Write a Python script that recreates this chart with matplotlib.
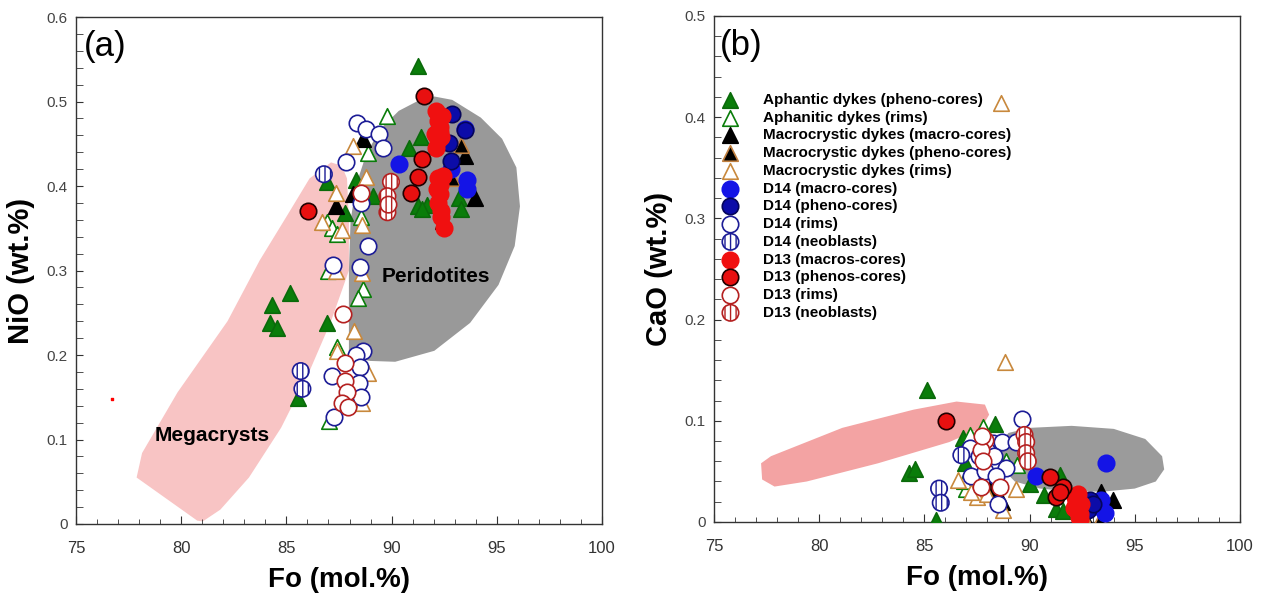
import matplotlib
matplotlib.use("Agg")
import matplotlib.pyplot as plt
from matplotlib.ticker import MultipleLocator

plt.rcParams["font.family"] = ["Liberation Sans", "DejaVu Sans"]
plt.rcParams["hatch.linewidth"] = 1.0

# ---- (a) NiO vs Fo, (b) CaO vs Fo ----
# Aphanitic dykes (pheno-cores)
aph_core_fo_a = [91.27, 91.39, 90.81, 88.31, 89.12, 87.80, 86.92, 91.24, 91.66, 91.44, 93.22, 93.31,
                 85.17, 84.32, 84.24, 84.53, 86.95, 85.56]
aph_core_nio = [0.542, 0.458, 0.445, 0.407, 0.388, 0.368, 0.405, 0.376, 0.378, 0.373, 0.386, 0.373,
                0.274, 0.259, 0.238, 0.232, 0.238, 0.149]
aph_core_fo_b = [85.14, 84.27, 84.54, 85.57, 88.35, 86.84, 86.95, 90.00, 90.71, 91.43, 91.27, 91.59]
aph_core_cao = [0.130, 0.048, 0.052, 0.002, 0.097, 0.083, 0.058, 0.038, 0.027, 0.046, 0.013, 0.011]

# Aphanitic dykes (rims)
aph_rim_fo_a = [89.80, 88.86, 86.95, 87.15, 87.40, 88.56, 88.66, 88.42, 87.39, 87.03, 87.00]
aph_rim_nio = [0.483, 0.439, 0.358, 0.350, 0.343, 0.363, 0.278, 0.267, 0.209, 0.122, 0.300]
aph_rim_fo_b = [87.16, 87.79, 87.00, 88.90, 89.40, 86.90]
aph_rim_cao = [0.086, 0.094, 0.033, 0.060, 0.056, 0.040]

# Macrocrystic dykes (macro-cores)
mac_core_fo_a = [88.64, 87.37, 88.17, 93.47, 93.98, 92.46]
mac_core_nio = [0.456, 0.376, 0.390, 0.435, 0.386, 0.359]
mac_core_fo_b = [93.41, 93.96, 92.70, 88.11, 88.70]
mac_core_cao = [0.030, 0.022, 0.002, 0.033, 0.020]

# Macrocrystic dykes (pheno-cores)
mac_pheno_fo_a = [93.31, 92.88]
mac_pheno_nio = [0.449, 0.409]
mac_pheno_fo_b = [93.33, 92.50]
mac_pheno_cao = [0.002, 0.008]

# Macrocrystic dykes (rims)
mac_rim_fo_a = [88.17, 88.78, 87.37, 86.69, 87.63, 88.61, 87.37, 88.61, 88.22, 87.42, 88.90, 88.61]
mac_rim_nio = [0.447, 0.411, 0.392, 0.357, 0.348, 0.354, 0.300, 0.297, 0.228, 0.205, 0.179, 0.143]
mac_rim_fo_b = [88.64, 88.81, 86.60, 87.48, 88.75, 89.38, 87.20, 88.00]
mac_rim_cao = [0.414, 0.158, 0.041, 0.025, 0.012, 0.033, 0.030, 0.028]

# D14 (macro-cores)
d14_core_fo_a = [90.34, 93.47, 93.56, 93.56, 92.80]
d14_core_nio = [0.426, 0.468, 0.407, 0.397, 0.420]
d14_core_fo_b = [93.65, 90.32, 93.41, 93.57, 93.33]
d14_core_cao = [0.058, 0.045, 0.022, 0.009, 0.015]

# D14 (pheno-cores)
d14_pheno_fo_a = [92.88, 92.71, 92.80, 93.47]
d14_pheno_nio = [0.485, 0.451, 0.430, 0.466]
d14_pheno_fo_b = [92.86, 92.80, 93.00]
d14_pheno_cao = [0.022, 0.012, 0.018]

# D14 (rims)
d14_rim_fo_a = [88.34, 88.78, 89.41, 89.58, 87.85, 88.56, 88.90, 87.20, 88.51, 88.64, 88.31, 88.51,
                88.47, 87.15, 88.56, 87.25]
d14_rim_nio = [0.475, 0.468, 0.462, 0.445, 0.429, 0.380, 0.329, 0.306, 0.304, 0.205, 0.200, 0.186,
               0.167, 0.175, 0.150, 0.127]
d14_rim_fo_b = [87.16, 88.27, 88.67, 88.35, 88.90, 87.24, 88.51, 89.62, 89.38, 87.60, 88.00, 88.30,
                87.90, 88.40]
d14_rim_cao = [0.073, 0.078, 0.079, 0.056, 0.053, 0.045, 0.018, 0.102, 0.079, 0.065, 0.070, 0.065,
               0.050, 0.045]

# D14 (neoblasts)
d14_neo_fo_a = [86.78, 85.68, 85.76]
d14_neo_nio = [0.414, 0.181, 0.160]
d14_neo_fo_b = [85.70, 85.78, 86.76]
d14_neo_cao = [0.033, 0.019, 0.066]

# D13 (macros-cores)
d13_core_fo_a = [92.12, 92.20, 92.29, 92.20, 92.12, 92.29, 92.37, 92.20, 92.29, 92.29, 92.20, 92.37,
                 92.33, 92.50, 92.05, 92.40, 92.15, 92.42]
d13_core_nio = [0.489, 0.477, 0.464, 0.454, 0.445, 0.470, 0.458, 0.409, 0.401, 0.390, 0.380, 0.371,
                0.363, 0.350, 0.462, 0.483, 0.396, 0.412]
d13_core_fo_b = [92.14, 92.30, 92.38, 92.20, 92.35, 92.25, 92.45, 92.10, 92.30, 92.40]
d13_core_cao = [0.025, 0.015, 0.008, 0.020, 0.005, 0.012, 0.018, 0.014, 0.028, 0.003]

# D13 (phenos-cores)
d13_pheno_fo_a = [91.53, 91.44, 91.27, 90.93, 86.02]
d13_pheno_nio = [0.506, 0.432, 0.411, 0.392, 0.370]
d13_pheno_fo_b = [86.02, 90.95, 91.59, 91.27, 91.45]
d13_pheno_cao = [0.100, 0.044, 0.035, 0.025, 0.030]

# D13 (rims)
d13_rim_fo_a = [88.56, 87.71, 87.80, 87.80, 87.88, 87.66, 87.92]
d13_rim_nio = [0.392, 0.249, 0.191, 0.169, 0.156, 0.143, 0.139]
d13_rim_fo_b = [87.87, 87.71, 87.79, 87.71, 88.59, 87.75]
d13_rim_cao = [0.081, 0.071, 0.060, 0.035, 0.035, 0.085]

# D13 (neoblasts)
d13_neo_fo_a = [89.97, 89.80, 89.80, 89.85]
d13_neo_nio = [0.405, 0.388, 0.369, 0.378]
d13_neo_fo_b = [89.76, 89.84, 89.84, 89.92]
d13_neo_cao = [0.086, 0.079, 0.068, 0.060]

# fields
mega_fo_a = [80.76, 77.88, 78.14, 79.83, 82.20, 83.73, 85.08, 86.10, 87.12, 87.63, 87.88, 87.97,
             87.97, 87.12, 86.10, 84.75, 83.22, 81.86, 81.02]
mega_nio = [0.004, 0.055, 0.084, 0.156, 0.240, 0.312, 0.367, 0.409, 0.428, 0.424, 0.409, 0.359,
            0.300, 0.240, 0.181, 0.114, 0.055, 0.017, 0.003]
perid_fo_a = [87.97, 88.98, 90.17, 92.03, 93.73, 95.08, 95.85, 96.10, 95.93, 95.25, 94.24, 92.88,
              92.03, 91.19, 90.34, 89.49, 88.81, 88.31, 88.05, 87.97]
perid_nio = [0.198, 0.193, 0.192, 0.205, 0.238, 0.283, 0.329, 0.376, 0.422, 0.456, 0.481, 0.502,
             0.506, 0.500, 0.489, 0.468, 0.439, 0.401, 0.359, 0.300]
mega_fo_b = [77.24, 77.71, 81.10, 84.49, 86.53, 87.88, 88.08, 87.71, 86.19, 82.80, 79.41, 77.88, 77.29]
mega_cao = [0.058, 0.065, 0.093, 0.111, 0.119, 0.116, 0.106, 0.093, 0.079, 0.058, 0.040, 0.035, 0.042]
perid_fo_b = [88.5, 89.0, 90.0, 92.0, 94.0, 95.5, 96.3, 96.4, 96.0, 95.0, 93.5, 92.0, 90.5, 89.3, 88.6]
perid_cao = [0.075, 0.088, 0.093, 0.095, 0.092, 0.082, 0.065, 0.052, 0.040, 0.033, 0.030, 0.030,
             0.033, 0.040, 0.055]

labels = ["Aphantic dykes (pheno-cores)", "Aphanitic dykes (rims)",
          "Macrocrystic dykes (macro-cores)", "Macrocrystic dykes (pheno-cores)",
          "Macrocrystic dykes (rims)", "D14 (macro-cores)", "D14 (pheno-cores)", "D14 (rims)",
          "D14 (neoblasts)", "D13 (macros-cores)", "D13 (phenos-cores)", "D13 (rims)",
          "D13 (neoblasts)"]

# marker, face, edge, hatch
styles = [
    ("^", "#0a7d0a", "#0a6a0a", None),
    ("^", "white", "#0a7d0a", None),
    ("^", "black", "black", None),
    ("^", "black", "#c08040", None),
    ("^", "white", "#c8883c", None),
    ("o", "#1414e6", "#1414e6", None),
    ("o", "#0c0ca8", "#05055a", None),
    ("o", "white", "#1c1c96", None),
    ("o", "white", "#1c1c96", "|||"),
    ("o", "#f01010", "#f01010", None),
    ("o", "#e81010", "#200000", None),
    ("o", "white", "#b42020", None),
    ("o", "white", "#b42020", "|||"),
]

series_a = [(aph_core_fo_a, aph_core_nio), (aph_rim_fo_a, aph_rim_nio), (mac_core_fo_a, mac_core_nio),
            (mac_pheno_fo_a, mac_pheno_nio), (mac_rim_fo_a, mac_rim_nio), (d14_core_fo_a, d14_core_nio),
            (d14_pheno_fo_a, d14_pheno_nio), (d14_rim_fo_a, d14_rim_nio), (d14_neo_fo_a, d14_neo_nio),
            (d13_core_fo_a, d13_core_nio), (d13_pheno_fo_a, d13_pheno_nio), (d13_rim_fo_a, d13_rim_nio),
            (d13_neo_fo_a, d13_neo_nio)]
series_b = [(aph_core_fo_b, aph_core_cao), (aph_rim_fo_b, aph_rim_cao), (mac_core_fo_b, mac_core_cao),
            (mac_pheno_fo_b, mac_pheno_cao), (mac_rim_fo_b, mac_rim_cao), (d14_core_fo_b, d14_core_cao),
            (d14_pheno_fo_b, d14_pheno_cao), (d14_rim_fo_b, d14_rim_cao), (d14_neo_fo_b, d14_neo_cao),
            (d13_core_fo_b, d13_core_cao), (d13_pheno_fo_b, d13_pheno_cao), (d13_rim_fo_b, d13_rim_cao),
            (d13_neo_fo_b, d13_neo_cao)]

fig = plt.figure(figsize=(12.69, 6.10), dpi=100)
ax0 = fig.add_axes([0.0599, 0.141, 0.4145, 0.831])
ax1 = fig.add_axes([0.5626, 0.1443, 0.4145, 0.8295])


def style_axes(ax, ymax, ylabel):
    ax.set_xlim(75, 100)
    ax.set_ylim(0, ymax)
    ax.xaxis.set_major_locator(MultipleLocator(5))
    ax.xaxis.set_minor_locator(MultipleLocator(1))
    ax.yaxis.set_major_locator(MultipleLocator(0.1))
    ax.yaxis.set_minor_locator(MultipleLocator(0.02))
    ax.tick_params(which="both", direction="in", top=False, right=False, color="#333333")
    ax.tick_params(axis="x", which="major", length=6, labelsize=12, pad=12, labelcolor="#333333")
    ax.tick_params(axis="x", which="minor", length=3.5)
    ax.tick_params(axis="y", which="major", length=5, labelsize=11, pad=6, labelcolor="#444444")
    ax.tick_params(axis="y", which="minor", length=5)
    ax.yaxis.set_major_formatter(lambda v, p: "0" if v == 0 else f"{v:.1f}")
    for s in ax.spines.values():
        s.set_color("#333333")
        s.set_linewidth(1.0)
    ax.set_xlabel("Fo (mol.%)", fontsize=20, fontweight="bold", labelpad=8)
    ax.set_ylabel(ylabel, fontsize=21, fontweight="bold", labelpad=8)


def draw_points(ax, series):
    handles = []
    for (x, y), (m, fc, ec, h), lab in zip(series, styles, labels):
        size = 125 if m == "^" else 140
        sc = ax.scatter(x, y, s=size, marker=m, facecolors=fc, edgecolors=ec, linewidths=1.2,
                        hatch=h, label=lab, zorder=3)
        handles.append(sc)
    return handles


# panel (a)
ax0.fill(mega_fo_a, mega_nio, color="#f8c4c4", lw=0, zorder=1)
ax0.fill(perid_fo_a, perid_nio, color="#999999", lw=0, zorder=1)
draw_points(ax0, series_a)
ax0.scatter([76.7], [0.148], s=3, marker="s", color="red", zorder=3)
ax0.text(92.1, 0.293, "Peridotites", fontsize=15, fontweight="bold", ha="center", va="center", zorder=4)
ax0.text(81.45, 0.105, "Megacrysts", fontsize=15, fontweight="bold", ha="center", va="center", zorder=4)
ax0.text(0.015, 0.975, "(a)", transform=ax0.transAxes, fontsize=25, ha="left", va="top")
style_axes(ax0, 0.6, "NiO (wt.%)")

# panel (b)
ax1.fill(mega_fo_b, mega_cao, color="#f3a3a3", lw=0, zorder=1)
ax1.fill(perid_fo_b, perid_cao, color="#9b9b9b", lw=0, zorder=1)
hs = draw_points(ax1, series_b)
ax1.text(0.012, 0.975, "(b)", transform=ax1.transAxes, fontsize=25, ha="left", va="top")
style_axes(ax1, 0.5, "CaO (wt.%)")
ax1.legend(handles=hs, loc="upper left", bbox_to_anchor=(0.014, 0.848), frameon=False,
           prop={"size": 11, "weight": "bold"}, labelspacing=0.245, handlelength=1.2,
           handletextpad=1.5, borderaxespad=0.0, borderpad=0.0, scatterpoints=1)

fig.savefig("out.png", dpi=100)
